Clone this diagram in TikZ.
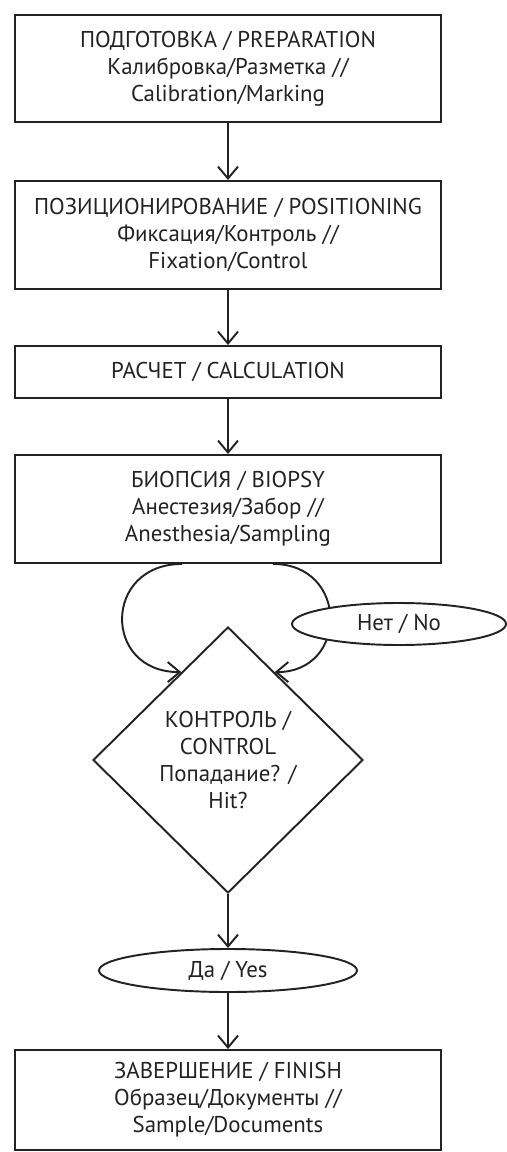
\documentclass[tikz,border=0pt]{standalone}
\usepackage{fontspec}
\setmainfont{PT Sans}
\usetikzlibrary{shapes.geometric,arrows.meta}
\definecolor{ink}{HTML}{222222}
\begin{document}
\begin{tikzpicture}[
    every node/.style={font=\fontsize{13}{15.4}\selectfont, text=ink, align=center},
    stepbox/.style={draw=ink, line width=1.1pt, minimum width=8.52cm, inner sep=0pt},
    check/.style={draw=ink, line width=1.1pt, shape=diamond, inner sep=0pt,
        minimum width=5.4cm, minimum height=5.32cm},
    answer/.style={draw=ink, line width=1.1pt, shape=ellipse, fill=white, inner sep=0pt},
    arr/.style={draw=ink, line width=1.1pt, -{Straight Barb[length=2.4mm,width=4mm]}}
    ]
        \useasboundingbox (0,0) rectangle (10.14,-23.04);
        \node[stepbox, minimum height=2.14cm] (prep) at (4.56, -1.37) {ПОДГОТОВКА / PREPARATION\\Калибровка/Разметка //\\Calibration/Marking};
        \node[stepbox, minimum height=2.16cm] (pos) at (4.56, -4.70) {ПОЗИЦИОНИРОВАНИЕ / POSITIONING\\Фиксация/Контроль //\\Fixation/Control};
        \node[stepbox, minimum height=1.04cm] (calc) at (4.56, -7.44) {РАСЧЕТ / CALCULATION};
        \node[stepbox, minimum height=2.16cm] (bio) at (4.56, -10.18) {БИОПСИЯ / BIOPSY\\Анестезия/Забор //\\Anesthesia/Sampling};
        \node[check] (dia) at (4.56, -15.20) {КОНТРОЛЬ /\\CONTROL\\Попадание? /\\Hit?};
        \node[answer, minimum width=5.16cm, minimum height=0.86cm] (yes) at (4.56, -19.41) {Да / Yes};
        \node[stepbox, minimum height=2.0cm] (fin) at (4.56, -22.0) {ЗАВЕРШЕНИЕ / FINISH\\Образец/Документы //\\Sample/Documents};
        \draw[arr] (prep) -- (pos);
        \draw[arr] (pos) -- (calc);
        \draw[arr] (calc) -- (bio);
        % two bends from the biopsy box back into the check
        \draw[arr] ([xshift=-0.92cm]bio.south) .. controls +(-1.58,0) and +(-1.58,0) .. (dia.118);
        \draw[arr] ([xshift=0.90cm]bio.south) .. controls +(1.52,0) and +(1.48,0) .. (dia.62);
        \node[answer, minimum width=4.28cm, minimum height=0.84cm] (no) at (7.98, -12.48) {Нет / No};
        \draw[arr] (dia) -- (yes);
        \draw[arr] (yes) -- (fin);
\end{tikzpicture}
\end{document}
